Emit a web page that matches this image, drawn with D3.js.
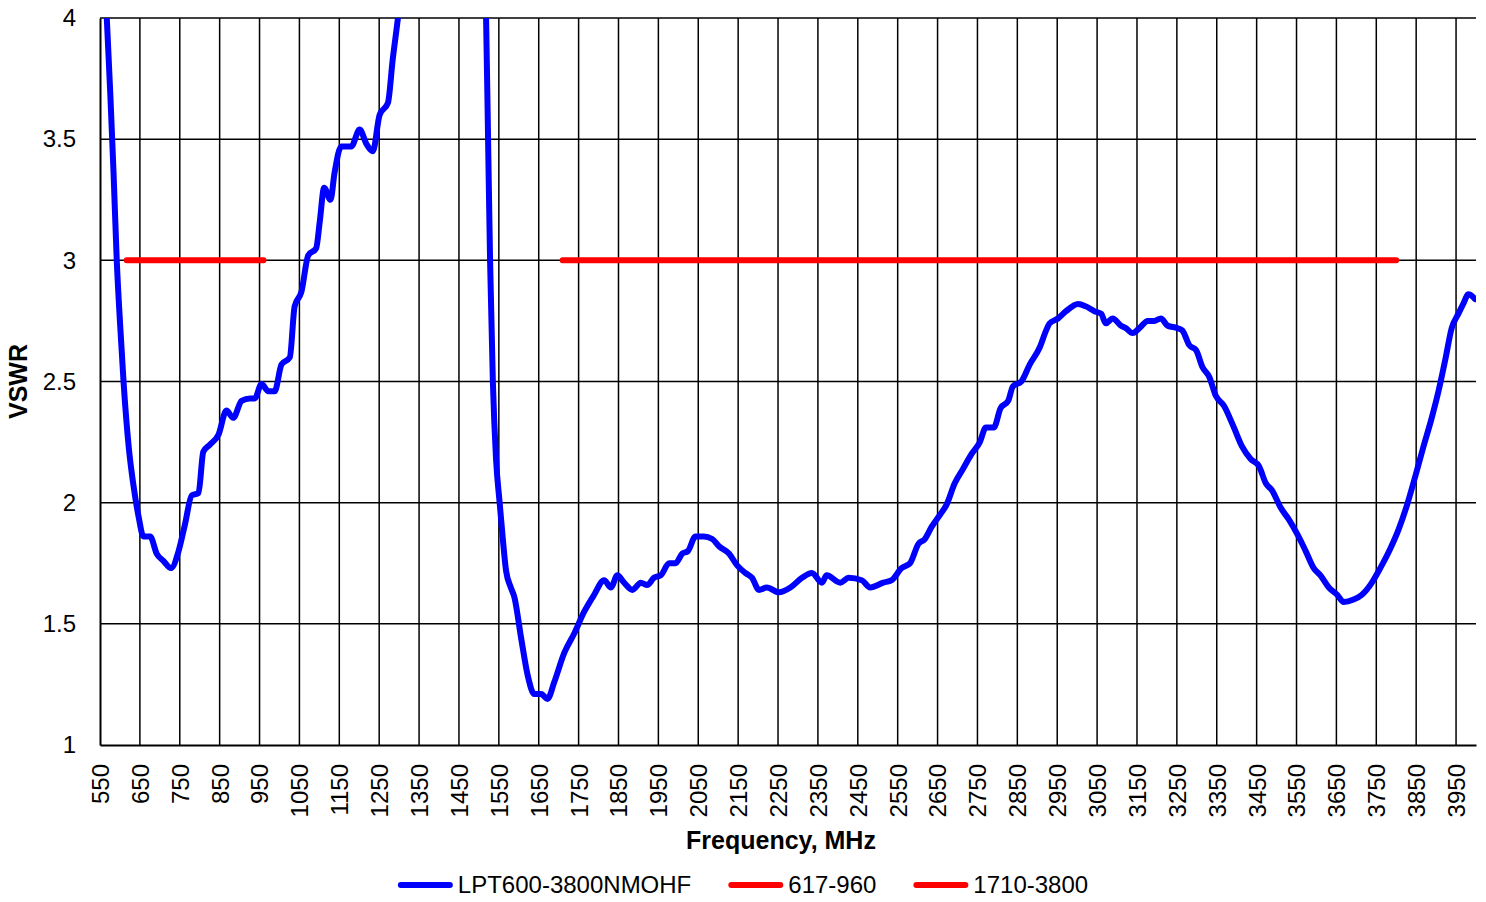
<!DOCTYPE html>
<html>
<head>
<meta charset="utf-8">
<script src="https://cdn.jsdelivr.net/npm/d3@7"></script>
<style>
  body { margin: 0; background: #fff; }
  text { font-family: "Liberation Sans", Arial, sans-serif; fill: #000; }
</style>
</head>
<body>
<svg id="mainsvg" width="1486" height="902"></svg>
<script>
// measured VSWR of LPT600-3800NMOHF (values above 4 run off the chart)
const freq = [555, 567, 576, 584, 592, 601, 609, 622, 634, 647, 659, 676, 692, 709, 728, 747, 763, 780, 797, 809,
  826, 847, 867, 884, 905, 926, 938, 955, 972, 988, 1005, 1026, 1038, 1055, 1072, 1092, 1101, 1112, 1128, 1138,
  1155, 1180, 1201, 1218, 1234, 1251, 1272, 1284, 1297, 1310, 1330, 1500, 1513, 1518, 1523, 1528, 1535, 1543, 1552, 1560,
  1568, 1580, 1589, 1606, 1622, 1639, 1656, 1672, 1689, 1714, 1739, 1764, 1789, 1814, 1831, 1847, 1864, 1885, 1906, 1922,
  1939, 1956, 1977, 1993, 2010, 2024, 2043, 2064, 2085, 2102, 2127, 2148, 2168, 2185, 2202, 2222, 2252, 2281, 2310, 2335,
  2360, 2372, 2406, 2427, 2460, 2481, 2514, 2535, 2560, 2581, 2602, 2618, 2635, 2656, 2672, 2693, 2714, 2735, 2756, 2771,
  2791, 2808, 2827, 2839, 2860, 2881, 2906, 2922, 2931, 2952, 2972, 3002, 3022, 3043, 3060, 3072, 3089, 3110, 3122, 3139,
  3156, 3177, 3193, 3210, 3227, 3252, 3264, 3281, 3298, 3314, 3331, 3348, 3368, 3393, 3414, 3435, 3456, 3473, 3489, 3510,
  3531, 3552, 3573, 3593, 3610, 3631, 3652, 3668, 3693, 3714, 3739, 3760, 3785, 3806, 3827, 3848, 3868, 3889, 3906, 3923,
  3939, 3956, 3968, 3981, 3998]
const vswr = [4.45, 4.0, 3.68, 3.36, 3.0, 2.72, 2.50, 2.23, 2.07, 1.94, 1.86, 1.86, 1.79, 1.76, 1.73, 1.80, 1.91, 2.03, 2.04, 2.21,
  2.24, 2.28, 2.38, 2.35, 2.42, 2.43, 2.43, 2.49, 2.46, 2.46, 2.57, 2.60, 2.81, 2.87, 3.02, 3.05, 3.16, 3.30, 3.25, 3.36,
  3.47, 3.47, 3.54, 3.48, 3.45, 3.60, 3.65, 3.83, 4.0, 4.2, 4.5, 4.5, 4.3, 4.0, 3.5, 3.0, 2.5, 2.18, 2.0, 1.85,
  1.72, 1.65, 1.61, 1.44, 1.29, 1.21, 1.21, 1.19, 1.26, 1.38, 1.46, 1.55, 1.62, 1.68, 1.65, 1.70, 1.67, 1.64, 1.67, 1.66,
  1.69, 1.70, 1.75, 1.75, 1.79, 1.80, 1.86, 1.86, 1.85, 1.82, 1.79, 1.74, 1.71, 1.69, 1.64, 1.65, 1.63, 1.65, 1.69, 1.71,
  1.67, 1.70, 1.67, 1.69, 1.68, 1.65, 1.67, 1.68, 1.73, 1.75, 1.83, 1.85, 1.90, 1.95, 1.99, 2.08, 2.14, 2.20, 2.25, 2.31,
  2.31, 2.39, 2.42, 2.48, 2.50, 2.57, 2.64, 2.71, 2.74, 2.76, 2.79, 2.82, 2.81, 2.79, 2.78, 2.74, 2.76, 2.73, 2.72, 2.70,
  2.72, 2.75, 2.75, 2.76, 2.73, 2.72, 2.71, 2.65, 2.63, 2.56, 2.52, 2.44, 2.40, 2.31, 2.23, 2.18, 2.15, 2.08, 2.05, 1.98,
  1.93, 1.87, 1.80, 1.73, 1.70, 1.65, 1.62, 1.59, 1.60, 1.62, 1.67, 1.73, 1.81, 1.89, 1.99, 2.11, 2.23, 2.35, 2.46, 2.59,
  2.72, 2.78, 2.82, 2.86, 2.84]

// frequency bands, drawn at the VSWR = 3 limit
const bandNames = ['617-960', '1710-3800']
const bandStart = [617, 1710]
const bandEnd = [960, 3800]
const bandLimit = 3

const seriesName = 'LPT600-3800NMOHF'
const xTicks = d3.range(550, 4000, 100)
const yTicks = [1, 1.5, 2, 2.5, 3, 3.5, 4]

const svg = d3.select('#mainsvg')
const margin = { top: 18, right: 10, left: 100, bottom: 157 }
const width = +svg.attr('width')
const height = +svg.attr('height')
const innerWidth = width - margin.left - margin.right
const innerHeight = height - margin.top - margin.bottom

const x = d3.scaleLinear().domain([550, 4000]).range([0, innerWidth])
const y = d3.scaleLinear().domain([1, 4]).range([innerHeight, 0])

const g = svg.append('g').attr('transform', `translate(${margin.left}, ${margin.top})`)

g.append('clipPath').attr('id', 'plotclip')
  .append('rect').attr('width', innerWidth).attr('height', innerHeight)

// grid
g.selectAll('.vgrid').data(xTicks.slice(1)).join('line')
  .attr('x1', d => x(d)).attr('x2', d => x(d))
  .attr('y1', 0).attr('y2', innerHeight)
  .attr('stroke', '#000').attr('stroke-width', 1.5)
g.selectAll('.hgrid').data(yTicks.slice(1)).join('line')
  .attr('x1', 0).attr('x2', innerWidth)
  .attr('y1', d => y(d)).attr('y2', d => y(d))
  .attr('stroke', '#000').attr('stroke-width', 1.5)

// axes
const xAxis = d3.axisBottom(x).tickValues(xTicks).tickSize(0).tickPadding(0).tickFormat(d3.format('d'))
const xg = g.append('g').attr('transform', `translate(0, ${innerHeight})`).call(xAxis)
xg.select('.domain').attr('stroke', '#000').attr('stroke-width', 2)
xg.selectAll('text')
  .attr('font-size', 24).attr('font-family', '"Liberation Sans", Arial, sans-serif')
  .attr('transform', 'rotate(-90)')
  .attr('text-anchor', 'end')
  .attr('x', -19).attr('y', 0).attr('dy', '0.35em')

const yAxis = d3.axisLeft(y).tickValues(yTicks).tickSize(0).tickPadding(24).tickFormat(d => d)
const yg = g.append('g').call(yAxis)
yg.select('.domain').attr('stroke', '#000').attr('stroke-width', 2)
yg.selectAll('text').attr('font-size', 24).attr('font-family', '"Liberation Sans", Arial, sans-serif')

// axis titles
svg.append('text')
  .attr('x', 781).attr('y', 849)
  .attr('text-anchor', 'middle').attr('font-weight', 'bold').attr('font-size', 25)
  .text('Frequency, MHz')
svg.append('text')
  .attr('transform', `translate(27, ${margin.top + innerHeight / 2}) rotate(-90)`)
  .attr('text-anchor', 'middle').attr('font-weight', 'bold').attr('font-size', 25)
  .text('VSWR')

// band limit lines
g.selectAll('.band').data(bandNames).join('line')
  .attr('x1', (d, i) => x(bandStart[i])).attr('x2', (d, i) => x(bandEnd[i]))
  .attr('y1', y(bandLimit)).attr('y2', y(bandLimit))
  .attr('stroke', '#ff0000').attr('stroke-width', 6).attr('stroke-linecap', 'round')

// measured curve
const line = d3.line()
  .x(d => x(d[0])).y(d => y(d[1]))
  .curve(d3.curveMonotoneX)
g.append('path')
  .datum(d3.zip(freq, vswr))
  .attr('clip-path', 'url(#plotclip)')
  .attr('d', line)
  .attr('fill', 'none')
  .attr('stroke', '#0000ff').attr('stroke-width', 6)
  .attr('stroke-linejoin', 'round').attr('stroke-linecap', 'round')

// legend
const legendItems = [
  { name: seriesName, color: '#0000ff' },
  { name: bandNames[0], color: '#ff0000' },
  { name: bandNames[1], color: '#ff0000' }
]
const legend = svg.append('g')
let lx = 0
legendItems.forEach(item => {
  const it = legend.append('g').attr('transform', `translate(${lx}, 0)`)
  it.append('line').attr('x1', 3).attr('x2', 52).attr('y1', 0).attr('y2', 0)
    .attr('stroke', item.color).attr('stroke-width', 6).attr('stroke-linecap', 'round')
  const t = it.append('text').attr('x', 60).attr('y', 0).attr('dy', '0.35em')
    .attr('font-size', 24).text(item.name)
  lx += 60 + t.node().getComputedTextLength() + 37
})
const legendWidth = lx - 37
legend.attr('transform', `translate(${(width - legendWidth) / 2}, 885)`)
</script>
</body>
</html>
